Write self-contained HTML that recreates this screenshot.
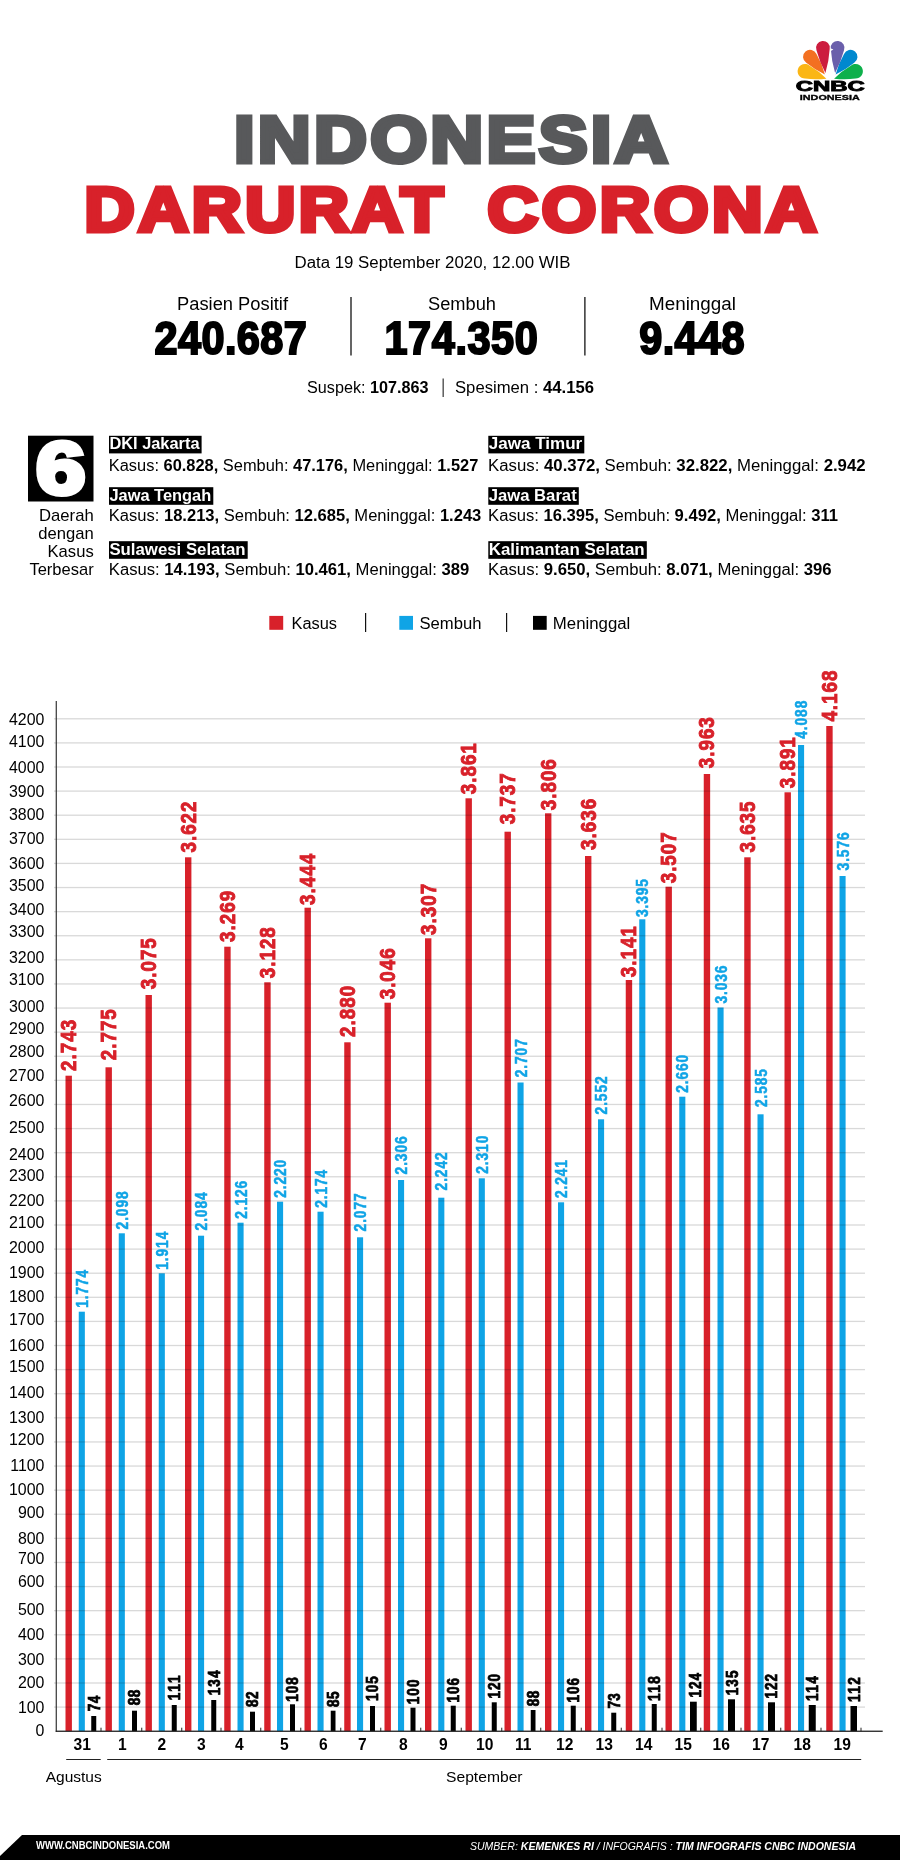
<!DOCTYPE html>
<html lang="id"><head><meta charset="utf-8"><title>Indonesia Darurat Corona</title>
<style>html,body{margin:0;padding:0;background:#fff}body{width:900px;height:1860px;overflow:hidden}svg{display:block;font-family:"Liberation Sans",sans-serif}</style>
</head><body>
<svg width="900" height="1860" viewBox="0 0 900 1860" role="img" aria-label="Indonesia Darurat Corona">
<rect width="900" height="1860" fill="#fff"/>
<g id="logo">
<path d="M826.40 78.70 Q815.63 80.09 804.87 78.60 A7.3 7.3 0 1 1 809.37 65.53 Q818.76 70.97 826.40 78.70 Z" fill="#fbb615"/>
<path d="M834.10 78.70 Q841.74 70.97 851.13 65.53 A7.3 7.3 0 1 1 855.63 78.60 Q844.87 80.09 834.10 78.70 Z" fill="#0eb04b"/>
<path d="M824.90 74.40 Q814.83 69.79 806.28 62.73 A7.0 7.0 0 1 1 816.46 54.11 Q822.01 63.70 824.90 74.40 Z" fill="#f37021"/>
<path d="M835.60 74.40 Q838.49 63.70 844.04 54.11 A7.0 7.0 0 1 1 854.22 62.73 Q845.67 69.79 835.60 74.40 Z" fill="#0088cf"/>
<path d="M825.40 72.90 Q819.60 62.15 816.48 50.34 A6.9 6.9 0 1 1 829.69 49.02 Q828.96 61.21 825.40 72.90 Z" fill="#cc1c3e"/>
<path d="M835.10 72.90 Q831.54 61.21 830.81 49.02 A6.9 6.9 0 1 1 844.02 50.34 Q840.90 62.15 835.10 72.90 Z" fill="#6a5fab"/>
<path d="M830.4 48.2 L833.4 49.4 L830.4 51.2 Z" fill="#fff"/>
</g>
<text x="830.2" y="91.4" font-size="14.2" font-weight="bold" fill="#000" text-anchor="middle" textLength="69" lengthAdjust="spacingAndGlyphs" stroke="#000" stroke-width="0.9">CNBC</text>
<text x="829.8" y="99.9" font-size="8.1" font-weight="bold" fill="#000" text-anchor="middle" textLength="60" lengthAdjust="spacingAndGlyphs" stroke="#000" stroke-width="0.35">INDONESIA</text>
<text transform="translate(234.2 161.8) scale(1.13 1)" font-size="64.3" font-weight="bold" fill="#58595b" stroke="#58595b" stroke-width="5" stroke-linejoin="miter" textLength="383.4" lengthAdjust="spacing">INDONESIA</text>
<text transform="translate(84.6 230.9) scale(1.09 1)" font-size="63.6" font-weight="bold" fill="#d8212a" stroke="#d8212a" stroke-width="5" stroke-linejoin="miter" textLength="328.9" lengthAdjust="spacing">DARURAT</text>
<text transform="translate(487.6 230.9) scale(1.1 1)" font-size="63.6" font-weight="bold" fill="#d8212a" stroke="#d8212a" stroke-width="5" stroke-linejoin="miter" textLength="299.1" lengthAdjust="spacing">CORONA</text>
<text x="432.5" y="267.5" font-size="16" font-weight="normal" fill="#000" text-anchor="middle" textLength="276" lengthAdjust="spacingAndGlyphs" >Data 19 September 2020, 12.00 WIB</text>
<text x="232.5" y="310.1" font-size="17.5" font-weight="normal" fill="#000" text-anchor="middle" textLength="111" lengthAdjust="spacingAndGlyphs" >Pasien Positif</text>
<text x="462" y="310.1" font-size="17.5" font-weight="normal" fill="#000" text-anchor="middle" textLength="68" lengthAdjust="spacingAndGlyphs" >Sembuh</text>
<text x="692.5" y="310.1" font-size="17.5" font-weight="normal" fill="#000" text-anchor="middle" textLength="87" lengthAdjust="spacingAndGlyphs" >Meninggal</text>
<text transform="translate(154.5 354.0) scale(0.9 1)" font-size="46" font-weight="bold" stroke="#000" stroke-width="2.1" stroke-linejoin="miter" textLength="169.2" lengthAdjust="spacing">240.687</text>
<text transform="translate(384.5 354.0) scale(0.9 1)" font-size="46" font-weight="bold" stroke="#000" stroke-width="2.1" stroke-linejoin="miter" textLength="170.3" lengthAdjust="spacing">174.350</text>
<text transform="translate(639.2 354.0) scale(0.9 1)" font-size="46" font-weight="bold" stroke="#000" stroke-width="2.1" stroke-linejoin="miter" textLength="117.0" lengthAdjust="spacing">9.448</text>
<rect x="350.4" y="297" width="1.2" height="58.5" fill="#000"/>
<rect x="584.3" y="297" width="1.2" height="58.5" fill="#000"/>
<text x="307" y="392.5" font-size="17.2" textLength="121.5" lengthAdjust="spacingAndGlyphs">Suspek: <tspan font-weight="bold">107.863</tspan></text>
<rect x="442.6" y="378.5" width="1.1" height="18.5" fill="#222"/>
<text x="455" y="392.5" font-size="17.2" textLength="139" lengthAdjust="spacingAndGlyphs">Spesimen : <tspan font-weight="bold">44.156</tspan></text>
<rect x="28" y="435.7" width="65.5" height="65.8" fill="#000"/>
<text x="60.8" y="494.2" font-size="74.3" font-weight="bold" fill="#fff" text-anchor="middle" textLength="49.5" lengthAdjust="spacingAndGlyphs" stroke="#fff" stroke-width="5" stroke-linejoin="miter">6</text>
<text x="39.0" y="521" font-size="16.2" font-weight="normal" fill="#000" text-anchor="start" textLength="54.7" lengthAdjust="spacingAndGlyphs" >Daerah</text>
<text x="38.2" y="539" font-size="16.2" font-weight="normal" fill="#000" text-anchor="start" textLength="55.5" lengthAdjust="spacingAndGlyphs" >dengan</text>
<text x="47.5" y="557.3" font-size="16.2" font-weight="normal" fill="#000" text-anchor="start" textLength="46.2" lengthAdjust="spacingAndGlyphs" >Kasus</text>
<text x="29.400000000000006" y="575" font-size="16.2" font-weight="normal" fill="#000" text-anchor="start" textLength="64.3" lengthAdjust="spacingAndGlyphs" >Terbesar</text>
<rect x="109" y="435.8" width="92.6" height="17.6" fill="#000"/>
<text x="109.4" y="449.40000000000003" font-size="16" font-weight="bold" fill="#fff" text-anchor="start" textLength="90.1" lengthAdjust="spacingAndGlyphs" >DKI Jakarta</text>
<text x="108.8" y="470.6" font-size="16" textLength="369.5" lengthAdjust="spacingAndGlyphs">Kasus: <tspan font-weight="bold">60.828,</tspan> Sembuh: <tspan font-weight="bold">47.176,</tspan> Meninggal: <tspan font-weight="bold">1.527</tspan></text>
<rect x="109" y="487.2" width="104.3" height="17.6" fill="#000"/>
<text x="109.4" y="500.8" font-size="16" font-weight="bold" fill="#fff" text-anchor="start" textLength="101.8" lengthAdjust="spacingAndGlyphs" >Jawa Tengah</text>
<text x="108.8" y="521.2" font-size="16" textLength="372.5" lengthAdjust="spacingAndGlyphs">Kasus: <tspan font-weight="bold">18.213,</tspan> Sembuh: <tspan font-weight="bold">12.685,</tspan> Meninggal: <tspan font-weight="bold">1.243</tspan></text>
<rect x="109" y="541.2" width="138.7" height="17.6" fill="#000"/>
<text x="109.4" y="554.8000000000001" font-size="16" font-weight="bold" fill="#fff" text-anchor="start" textLength="136.2" lengthAdjust="spacingAndGlyphs" >Sulawesi Selatan</text>
<text x="108.8" y="575.4" font-size="16" textLength="360.5" lengthAdjust="spacingAndGlyphs">Kasus: <tspan font-weight="bold">14.193,</tspan> Sembuh: <tspan font-weight="bold">10.461,</tspan> Meninggal: <tspan font-weight="bold">389</tspan></text>
<rect x="488.3" y="435.8" width="96" height="17.6" fill="#000"/>
<text x="488.7" y="449.40000000000003" font-size="16" font-weight="bold" fill="#fff" text-anchor="start" textLength="93.5" lengthAdjust="spacingAndGlyphs" >Jawa Timur</text>
<text x="488.1" y="470.6" font-size="16" textLength="377.5" lengthAdjust="spacingAndGlyphs">Kasus: <tspan font-weight="bold">40.372,</tspan> Sembuh: <tspan font-weight="bold">32.822,</tspan> Meninggal: <tspan font-weight="bold">2.942</tspan></text>
<rect x="488.3" y="487.2" width="90.5" height="17.6" fill="#000"/>
<text x="488.7" y="500.8" font-size="16" font-weight="bold" fill="#fff" text-anchor="start" textLength="88.0" lengthAdjust="spacingAndGlyphs" >Jawa Barat</text>
<text x="488.1" y="521.2" font-size="16" textLength="350" lengthAdjust="spacingAndGlyphs">Kasus: <tspan font-weight="bold">16.395,</tspan> Sembuh: <tspan font-weight="bold">9.492,</tspan> Meninggal: <tspan font-weight="bold">311</tspan></text>
<rect x="488.3" y="541.2" width="158.5" height="17.6" fill="#000"/>
<text x="488.7" y="554.8000000000001" font-size="16" font-weight="bold" fill="#fff" text-anchor="start" textLength="156.0" lengthAdjust="spacingAndGlyphs" >Kalimantan Selatan</text>
<text x="488.1" y="575.4" font-size="16" textLength="343.5" lengthAdjust="spacingAndGlyphs">Kasus: <tspan font-weight="bold">9.650,</tspan> Sembuh: <tspan font-weight="bold">8.071,</tspan> Meninggal: <tspan font-weight="bold">396</tspan></text>
<rect x="269.3" y="615.9" width="13.9" height="13.9" fill="#d8212a"/>
<text x="291.5" y="628.6" font-size="16" font-weight="normal" fill="#000" text-anchor="start" textLength="45.5" lengthAdjust="spacingAndGlyphs" >Kasus</text>
<rect x="365" y="613" width="1.2" height="19" fill="#111"/>
<rect x="399.3" y="615.9" width="13.7" height="13.9" fill="#0fa4e6"/>
<text x="419.5" y="628.6" font-size="16" font-weight="normal" fill="#000" text-anchor="start" textLength="62" lengthAdjust="spacingAndGlyphs" >Sembuh</text>
<rect x="506" y="613" width="1.2" height="19" fill="#111"/>
<rect x="533.0" y="615.9" width="13.7" height="13.9" fill="#000"/>
<text x="552.8" y="628.6" font-size="16" font-weight="normal" fill="#000" text-anchor="start" textLength="77.5" lengthAdjust="spacingAndGlyphs" >Meninggal</text>
<g id="ylabels" font-size="15.9" text-anchor="end">
<text x="44.4" y="724.8">4200</text>
<text x="44.4" y="747.0">4100</text>
<text x="44.4" y="772.8">4000</text>
<text x="44.4" y="797.0">3900</text>
<text x="44.4" y="820.3">3800</text>
<text x="44.4" y="844.0">3700</text>
<text x="44.4" y="868.6">3600</text>
<text x="44.4" y="890.6">3500</text>
<text x="44.4" y="914.5">3400</text>
<text x="44.4" y="937.0">3300</text>
<text x="44.4" y="962.8">3200</text>
<text x="44.4" y="984.5">3100</text>
<text x="44.4" y="1011.6">3000</text>
<text x="44.4" y="1033.6">2900</text>
<text x="44.4" y="1057.3">2800</text>
<text x="44.4" y="1080.6">2700</text>
<text x="44.4" y="1105.6">2600</text>
<text x="44.4" y="1132.5">2500</text>
<text x="44.4" y="1159.5">2400</text>
<text x="44.4" y="1181.1">2300</text>
<text x="44.4" y="1205.6">2200</text>
<text x="44.4" y="1227.8">2100</text>
<text x="44.4" y="1252.8">2000</text>
<text x="44.4" y="1277.5">1900</text>
<text x="44.4" y="1301.6">1800</text>
<text x="44.4" y="1325.0">1700</text>
<text x="44.4" y="1350.8">1600</text>
<text x="44.4" y="1372.0">1500</text>
<text x="44.4" y="1397.8">1400</text>
<text x="44.4" y="1423.3">1300</text>
<text x="44.4" y="1444.8">1200</text>
<text x="44.4" y="1470.6">1100</text>
<text x="44.4" y="1495.0">1000</text>
<text x="44.4" y="1517.8">900</text>
<text x="44.4" y="1543.5">800</text>
<text x="44.4" y="1564.1">700</text>
<text x="44.4" y="1587.0">600</text>
<text x="44.4" y="1615.0">500</text>
<text x="44.4" y="1639.5">400</text>
<text x="44.4" y="1665.0">300</text>
<text x="44.4" y="1688.3">200</text>
<text x="44.4" y="1712.5">100</text>
<text x="44.4" y="1736.1">0</text>
</g>
<g id="bars">
<rect x="65.5" y="1075.7" width="6.4" height="655.5" fill="#d8212a"/>
<rect x="78.75" y="1311.7" width="6.1" height="419.5" fill="#0fa4e6"/>
<rect x="91.25" y="1716" width="5" height="15.2" fill="#000"/>
<rect x="100.5" y="1727.7" width="1" height="3.5" fill="#222"/>
<rect x="105.5" y="1067.3" width="6.4" height="663.9" fill="#d8212a"/>
<rect x="118.75" y="1233.3" width="6.1" height="497.9" fill="#0fa4e6"/>
<rect x="132" y="1710.7" width="5" height="20.5" fill="#000"/>
<rect x="141.25" y="1727.7" width="1" height="3.5" fill="#222"/>
<rect x="145.5" y="995" width="6.4" height="736.2" fill="#d8212a"/>
<rect x="158.75" y="1273.3" width="6.1" height="457.9" fill="#0fa4e6"/>
<rect x="171.75" y="1705" width="5" height="26.2" fill="#000"/>
<rect x="181.25" y="1727.7" width="1" height="3.5" fill="#222"/>
<rect x="185" y="857.3" width="6.4" height="873.9" fill="#d8212a"/>
<rect x="198" y="1235.7" width="6.1" height="495.5" fill="#0fa4e6"/>
<rect x="211.25" y="1700" width="5" height="31.2" fill="#000"/>
<rect x="220.5" y="1727.7" width="1" height="3.5" fill="#222"/>
<rect x="224.25" y="946.7" width="6.4" height="784.5" fill="#d8212a"/>
<rect x="237.5" y="1222.7" width="6.1" height="508.5" fill="#0fa4e6"/>
<rect x="250" y="1711.7" width="5" height="19.5" fill="#000"/>
<rect x="260.25" y="1727.7" width="1" height="3.5" fill="#222"/>
<rect x="264.25" y="982.3" width="6.4" height="748.9" fill="#d8212a"/>
<rect x="277" y="1201.7" width="6.1" height="529.5" fill="#0fa4e6"/>
<rect x="290" y="1704.3" width="5" height="26.9" fill="#000"/>
<rect x="300.25" y="1727.7" width="1" height="3.5" fill="#222"/>
<rect x="304.5" y="907.7" width="6.4" height="823.5" fill="#d8212a"/>
<rect x="317.5" y="1211.7" width="6.1" height="519.5" fill="#0fa4e6"/>
<rect x="330.75" y="1710.7" width="4.75" height="20.5" fill="#000"/>
<rect x="340.25" y="1727.7" width="1" height="3.5" fill="#222"/>
<rect x="344.25" y="1042.3" width="6.4" height="688.9" fill="#d8212a"/>
<rect x="357" y="1237.3" width="6.1" height="493.9" fill="#0fa4e6"/>
<rect x="370" y="1706" width="5" height="25.2" fill="#000"/>
<rect x="380.25" y="1727.7" width="1" height="3.5" fill="#222"/>
<rect x="384.5" y="1002.7" width="6.4" height="728.5" fill="#d8212a"/>
<rect x="398" y="1180" width="6.1" height="551.2" fill="#0fa4e6"/>
<rect x="410.5" y="1707.7" width="5" height="23.5" fill="#000"/>
<rect x="420.25" y="1727.7" width="1" height="3.5" fill="#222"/>
<rect x="425" y="938.3" width="6.4" height="792.9" fill="#d8212a"/>
<rect x="438.25" y="1197.7" width="6.1" height="533.5" fill="#0fa4e6"/>
<rect x="450.75" y="1705.7" width="5" height="25.5" fill="#000"/>
<rect x="460.75" y="1727.7" width="1" height="3.5" fill="#222"/>
<rect x="465.5" y="798.3" width="6.4" height="932.9" fill="#d8212a"/>
<rect x="478.75" y="1178.3" width="6.1" height="552.9" fill="#0fa4e6"/>
<rect x="491.75" y="1702.3" width="5" height="28.9" fill="#000"/>
<rect x="501.25" y="1727.7" width="1" height="3.5" fill="#222"/>
<rect x="504.5" y="831.7" width="6.4" height="899.5" fill="#d8212a"/>
<rect x="517.5" y="1082.5" width="6.1" height="648.7" fill="#0fa4e6"/>
<rect x="530.75" y="1710" width="4.75" height="21.2" fill="#000"/>
<rect x="540.25" y="1727.7" width="1" height="3.5" fill="#222"/>
<rect x="545" y="813.3" width="6.4" height="917.9" fill="#d8212a"/>
<rect x="558" y="1202.3" width="6.1" height="528.9" fill="#0fa4e6"/>
<rect x="570.75" y="1705.7" width="5" height="25.5" fill="#000"/>
<rect x="580.75" y="1727.7" width="1" height="3.5" fill="#222"/>
<rect x="585" y="856" width="6.4" height="875.2" fill="#d8212a"/>
<rect x="598" y="1119.3" width="6.1" height="611.9" fill="#0fa4e6"/>
<rect x="611.25" y="1712.7" width="5" height="18.5" fill="#000"/>
<rect x="620.75" y="1727.7" width="1" height="3.5" fill="#222"/>
<rect x="625.75" y="980" width="6.4" height="751.2" fill="#d8212a"/>
<rect x="639.25" y="919.3" width="6.1" height="811.9" fill="#0fa4e6"/>
<rect x="651.75" y="1704" width="5" height="27.2" fill="#000"/>
<rect x="661.5" y="1727.7" width="1" height="3.5" fill="#222"/>
<rect x="665.5" y="886.7" width="6.4" height="844.5" fill="#d8212a"/>
<rect x="679.25" y="1096.7" width="6.1" height="634.5" fill="#0fa4e6"/>
<rect x="690" y="1701.7" width="6.75" height="29.5" fill="#000"/>
<rect x="700.25" y="1727.7" width="1" height="3.5" fill="#222"/>
<rect x="703.75" y="774" width="6.4" height="957.2" fill="#d8212a"/>
<rect x="717.5" y="1007.5" width="6.1" height="723.7" fill="#0fa4e6"/>
<rect x="728" y="1699.3" width="7" height="31.9" fill="#000"/>
<rect x="740.5" y="1727.7" width="1" height="3.5" fill="#222"/>
<rect x="744.25" y="857.3" width="6.4" height="873.9" fill="#d8212a"/>
<rect x="757.5" y="1114.3" width="6.1" height="616.9" fill="#0fa4e6"/>
<rect x="768" y="1702.3" width="7" height="28.9" fill="#000"/>
<rect x="780.25" y="1727.7" width="1" height="3.5" fill="#222"/>
<rect x="784.5" y="792.3" width="6.4" height="938.9" fill="#d8212a"/>
<rect x="798" y="745" width="6.1" height="986.2" fill="#0fa4e6"/>
<rect x="808.75" y="1705" width="7" height="26.2" fill="#000"/>
<rect x="820.5" y="1727.7" width="1" height="3.5" fill="#222"/>
<rect x="826.25" y="726" width="6.4" height="1005.2" fill="#d8212a"/>
<rect x="839.5" y="876" width="6.1" height="855.2" fill="#0fa4e6"/>
<rect x="850.5" y="1706" width="6.5" height="25.2" fill="#000"/>
<rect x="860.5" y="1727.7" width="1" height="3.5" fill="#222"/>
</g>
<g id="grid" style="mix-blend-mode:multiply">
<rect x="54" y="1706.44" width="811" height="1.3" fill="#d9d9d9"/>
<rect x="54" y="1682.34" width="811" height="1.3" fill="#d9d9d9"/>
<rect x="54" y="1658.23" width="811" height="1.3" fill="#d9d9d9"/>
<rect x="54" y="1634.13" width="811" height="1.3" fill="#d9d9d9"/>
<rect x="54" y="1610.02" width="811" height="1.3" fill="#d9d9d9"/>
<rect x="54" y="1585.92" width="811" height="1.3" fill="#d9d9d9"/>
<rect x="54" y="1561.82" width="811" height="1.3" fill="#d9d9d9"/>
<rect x="54" y="1537.71" width="811" height="1.3" fill="#d9d9d9"/>
<rect x="54" y="1513.61" width="811" height="1.3" fill="#d9d9d9"/>
<rect x="54" y="1489.50" width="811" height="1.3" fill="#d9d9d9"/>
<rect x="54" y="1465.39" width="811" height="1.3" fill="#d9d9d9"/>
<rect x="54" y="1441.29" width="811" height="1.3" fill="#d9d9d9"/>
<rect x="54" y="1417.18" width="811" height="1.3" fill="#d9d9d9"/>
<rect x="54" y="1393.08" width="811" height="1.3" fill="#d9d9d9"/>
<rect x="54" y="1368.97" width="811" height="1.3" fill="#d9d9d9"/>
<rect x="54" y="1344.87" width="811" height="1.3" fill="#d9d9d9"/>
<rect x="54" y="1320.76" width="811" height="1.3" fill="#d9d9d9"/>
<rect x="54" y="1296.66" width="811" height="1.3" fill="#d9d9d9"/>
<rect x="54" y="1272.56" width="811" height="1.3" fill="#d9d9d9"/>
<rect x="54" y="1248.45" width="811" height="1.3" fill="#d9d9d9"/>
<rect x="54" y="1224.35" width="811" height="1.3" fill="#d9d9d9"/>
<rect x="54" y="1200.24" width="811" height="1.3" fill="#d9d9d9"/>
<rect x="54" y="1176.13" width="811" height="1.3" fill="#d9d9d9"/>
<rect x="54" y="1152.03" width="811" height="1.3" fill="#d9d9d9"/>
<rect x="54" y="1127.92" width="811" height="1.3" fill="#d9d9d9"/>
<rect x="54" y="1103.82" width="811" height="1.3" fill="#d9d9d9"/>
<rect x="54" y="1079.72" width="811" height="1.3" fill="#d9d9d9"/>
<rect x="54" y="1055.61" width="811" height="1.3" fill="#d9d9d9"/>
<rect x="54" y="1031.51" width="811" height="1.3" fill="#d9d9d9"/>
<rect x="54" y="1007.40" width="811" height="1.3" fill="#d9d9d9"/>
<rect x="54" y="983.30" width="811" height="1.3" fill="#d9d9d9"/>
<rect x="54" y="959.19" width="811" height="1.3" fill="#d9d9d9"/>
<rect x="54" y="935.09" width="811" height="1.3" fill="#d9d9d9"/>
<rect x="54" y="910.98" width="811" height="1.3" fill="#d9d9d9"/>
<rect x="54" y="886.88" width="811" height="1.3" fill="#d9d9d9"/>
<rect x="54" y="862.77" width="811" height="1.3" fill="#d9d9d9"/>
<rect x="54" y="838.67" width="811" height="1.3" fill="#d9d9d9"/>
<rect x="54" y="814.56" width="811" height="1.3" fill="#d9d9d9"/>
<rect x="54" y="790.46" width="811" height="1.3" fill="#d9d9d9"/>
<rect x="54" y="766.35" width="811" height="1.3" fill="#d9d9d9"/>
<rect x="54" y="742.25" width="811" height="1.3" fill="#d9d9d9"/>
<rect x="54" y="718.14" width="811" height="1.3" fill="#d9d9d9"/>
</g>
<g id="barlabels">
<text transform="translate(76.2 1070.9) rotate(-90) scale(0.86 1)" font-size="21.8" font-weight="bold" fill="#d8212a" textLength="59.3" lengthAdjust="spacing" stroke="#d8212a" stroke-width="0.9">2.743</text>
<text transform="translate(87.85 1307.8) rotate(-90) scale(0.86 1)" font-size="16.0" font-weight="bold" fill="#0fa4e6" textLength="44.2" lengthAdjust="spacing" stroke="#0fa4e6" stroke-width="0.55">1.774</text>
<text transform="translate(99.55 1711.2) rotate(-90) scale(0.8 1)" font-size="16.9" font-weight="bold" fill="#000" textLength="19.2" lengthAdjust="spacing" stroke="#000" stroke-width="0.8">74</text>
<text transform="translate(116.2 1060.2) rotate(-90) scale(0.86 1)" font-size="21.8" font-weight="bold" fill="#d8212a" textLength="59.3" lengthAdjust="spacing" stroke="#d8212a" stroke-width="0.9">2.775</text>
<text transform="translate(127.85 1229.4) rotate(-90) scale(0.86 1)" font-size="16.0" font-weight="bold" fill="#0fa4e6" textLength="44.2" lengthAdjust="spacing" stroke="#0fa4e6" stroke-width="0.55">2.098</text>
<text transform="translate(140.3 1705.2) rotate(-90) scale(0.8 1)" font-size="16.9" font-weight="bold" fill="#000" textLength="19.2" lengthAdjust="spacing" stroke="#000" stroke-width="0.8">88</text>
<text transform="translate(156.2 989.2) rotate(-90) scale(0.86 1)" font-size="21.8" font-weight="bold" fill="#d8212a" textLength="59.3" lengthAdjust="spacing" stroke="#d8212a" stroke-width="0.9">3.075</text>
<text transform="translate(167.85 1269.7) rotate(-90) scale(0.86 1)" font-size="16.0" font-weight="bold" fill="#0fa4e6" textLength="44.2" lengthAdjust="spacing" stroke="#0fa4e6" stroke-width="0.55">1.914</text>
<text transform="translate(180.05 1700.2) rotate(-90) scale(0.8 1)" font-size="16.9" font-weight="bold" fill="#000" textLength="30.8" lengthAdjust="spacing" stroke="#000" stroke-width="0.8">111</text>
<text transform="translate(195.7 852.5) rotate(-90) scale(0.86 1)" font-size="21.8" font-weight="bold" fill="#d8212a" textLength="59.3" lengthAdjust="spacing" stroke="#d8212a" stroke-width="0.9">3.622</text>
<text transform="translate(207.1 1230.4) rotate(-90) scale(0.86 1)" font-size="16.0" font-weight="bold" fill="#0fa4e6" textLength="44.2" lengthAdjust="spacing" stroke="#0fa4e6" stroke-width="0.55">2.084</text>
<text transform="translate(219.55 1695.2) rotate(-90) scale(0.8 1)" font-size="16.9" font-weight="bold" fill="#000" textLength="30.8" lengthAdjust="spacing" stroke="#000" stroke-width="0.8">134</text>
<text transform="translate(234.95 941.9) rotate(-90) scale(0.86 1)" font-size="21.8" font-weight="bold" fill="#d8212a" textLength="59.3" lengthAdjust="spacing" stroke="#d8212a" stroke-width="0.9">3.269</text>
<text transform="translate(246.6 1218.8) rotate(-90) scale(0.86 1)" font-size="16.0" font-weight="bold" fill="#0fa4e6" textLength="44.2" lengthAdjust="spacing" stroke="#0fa4e6" stroke-width="0.55">2.126</text>
<text transform="translate(258.3 1706.9) rotate(-90) scale(0.8 1)" font-size="16.9" font-weight="bold" fill="#000" textLength="19.2" lengthAdjust="spacing" stroke="#000" stroke-width="0.8">82</text>
<text transform="translate(274.95 978.2) rotate(-90) scale(0.86 1)" font-size="21.8" font-weight="bold" fill="#d8212a" textLength="59.3" lengthAdjust="spacing" stroke="#d8212a" stroke-width="0.9">3.128</text>
<text transform="translate(286.1 1197.8) rotate(-90) scale(0.86 1)" font-size="16.0" font-weight="bold" fill="#0fa4e6" textLength="44.2" lengthAdjust="spacing" stroke="#0fa4e6" stroke-width="0.55">2.220</text>
<text transform="translate(298.3 1701.8) rotate(-90) scale(0.8 1)" font-size="16.9" font-weight="bold" fill="#000" textLength="30.8" lengthAdjust="spacing" stroke="#000" stroke-width="0.8">108</text>
<text transform="translate(315.2 904.9) rotate(-90) scale(0.86 1)" font-size="21.8" font-weight="bold" fill="#d8212a" textLength="59.3" lengthAdjust="spacing" stroke="#d8212a" stroke-width="0.9">3.444</text>
<text transform="translate(326.6 1207.8) rotate(-90) scale(0.86 1)" font-size="16.0" font-weight="bold" fill="#0fa4e6" textLength="44.2" lengthAdjust="spacing" stroke="#0fa4e6" stroke-width="0.55">2.174</text>
<text transform="translate(338.93 1706.9) rotate(-90) scale(0.8 1)" font-size="16.9" font-weight="bold" fill="#000" textLength="19.2" lengthAdjust="spacing" stroke="#000" stroke-width="0.8">85</text>
<text transform="translate(354.95 1036.9) rotate(-90) scale(0.86 1)" font-size="21.8" font-weight="bold" fill="#d8212a" textLength="59.3" lengthAdjust="spacing" stroke="#d8212a" stroke-width="0.9">2.880</text>
<text transform="translate(366.1 1231.4) rotate(-90) scale(0.86 1)" font-size="16.0" font-weight="bold" fill="#0fa4e6" textLength="44.2" lengthAdjust="spacing" stroke="#0fa4e6" stroke-width="0.55">2.077</text>
<text transform="translate(378.3 1700.9) rotate(-90) scale(0.8 1)" font-size="16.9" font-weight="bold" fill="#000" textLength="30.8" lengthAdjust="spacing" stroke="#000" stroke-width="0.8">105</text>
<text transform="translate(395.2 999.3) rotate(-90) scale(0.86 1)" font-size="21.8" font-weight="bold" fill="#d8212a" textLength="59.3" lengthAdjust="spacing" stroke="#d8212a" stroke-width="0.9">3.046</text>
<text transform="translate(407.1 1174.4) rotate(-90) scale(0.86 1)" font-size="16.0" font-weight="bold" fill="#0fa4e6" textLength="44.2" lengthAdjust="spacing" stroke="#0fa4e6" stroke-width="0.55">2.306</text>
<text transform="translate(418.8 1704.2) rotate(-90) scale(0.8 1)" font-size="16.9" font-weight="bold" fill="#000" textLength="30.8" lengthAdjust="spacing" stroke="#000" stroke-width="0.8">100</text>
<text transform="translate(435.7 934.9) rotate(-90) scale(0.86 1)" font-size="21.8" font-weight="bold" fill="#d8212a" textLength="59.3" lengthAdjust="spacing" stroke="#d8212a" stroke-width="0.9">3.307</text>
<text transform="translate(447.35 1190.4) rotate(-90) scale(0.86 1)" font-size="16.0" font-weight="bold" fill="#0fa4e6" textLength="44.2" lengthAdjust="spacing" stroke="#0fa4e6" stroke-width="0.55">2.242</text>
<text transform="translate(459.05 1702.6) rotate(-90) scale(0.8 1)" font-size="16.9" font-weight="bold" fill="#000" textLength="30.8" lengthAdjust="spacing" stroke="#000" stroke-width="0.8">106</text>
<text transform="translate(476.2 794.2) rotate(-90) scale(0.86 1)" font-size="21.8" font-weight="bold" fill="#d8212a" textLength="59.3" lengthAdjust="spacing" stroke="#d8212a" stroke-width="0.9">3.861</text>
<text transform="translate(487.85 1173.7) rotate(-90) scale(0.86 1)" font-size="16.0" font-weight="bold" fill="#0fa4e6" textLength="44.2" lengthAdjust="spacing" stroke="#0fa4e6" stroke-width="0.55">2.310</text>
<text transform="translate(500.05 1698.5) rotate(-90) scale(0.8 1)" font-size="16.9" font-weight="bold" fill="#000" textLength="30.8" lengthAdjust="spacing" stroke="#000" stroke-width="0.8">120</text>
<text transform="translate(515.2 824.3) rotate(-90) scale(0.86 1)" font-size="21.8" font-weight="bold" fill="#d8212a" textLength="59.3" lengthAdjust="spacing" stroke="#d8212a" stroke-width="0.9">3.737</text>
<text transform="translate(526.6 1077.2) rotate(-90) scale(0.86 1)" font-size="16.0" font-weight="bold" fill="#0fa4e6" textLength="44.2" lengthAdjust="spacing" stroke="#0fa4e6" stroke-width="0.55">2.707</text>
<text transform="translate(538.92 1706.2) rotate(-90) scale(0.8 1)" font-size="16.9" font-weight="bold" fill="#000" textLength="19.2" lengthAdjust="spacing" stroke="#000" stroke-width="0.8">88</text>
<text transform="translate(555.7 810.2) rotate(-90) scale(0.86 1)" font-size="21.8" font-weight="bold" fill="#d8212a" textLength="59.3" lengthAdjust="spacing" stroke="#d8212a" stroke-width="0.9">3.806</text>
<text transform="translate(567.1 1198.0) rotate(-90) scale(0.86 1)" font-size="16.0" font-weight="bold" fill="#0fa4e6" textLength="44.2" lengthAdjust="spacing" stroke="#0fa4e6" stroke-width="0.55">2.241</text>
<text transform="translate(579.05 1702.6) rotate(-90) scale(0.8 1)" font-size="16.9" font-weight="bold" fill="#000" textLength="30.8" lengthAdjust="spacing" stroke="#000" stroke-width="0.8">106</text>
<text transform="translate(595.7 849.9) rotate(-90) scale(0.86 1)" font-size="21.8" font-weight="bold" fill="#d8212a" textLength="59.3" lengthAdjust="spacing" stroke="#d8212a" stroke-width="0.9">3.636</text>
<text transform="translate(607.1 1114.4) rotate(-90) scale(0.86 1)" font-size="16.0" font-weight="bold" fill="#0fa4e6" textLength="44.2" lengthAdjust="spacing" stroke="#0fa4e6" stroke-width="0.55">2.552</text>
<text transform="translate(619.55 1708.6) rotate(-90) scale(0.8 1)" font-size="16.9" font-weight="bold" fill="#000" textLength="19.2" lengthAdjust="spacing" stroke="#000" stroke-width="0.8">73</text>
<text transform="translate(636.45 977.2) rotate(-90) scale(0.86 1)" font-size="21.8" font-weight="bold" fill="#d8212a" textLength="59.3" lengthAdjust="spacing" stroke="#d8212a" stroke-width="0.9">3.141</text>
<text transform="translate(648.35 917.0) rotate(-90) scale(0.86 1)" font-size="16.0" font-weight="bold" fill="#0fa4e6" textLength="44.2" lengthAdjust="spacing" stroke="#0fa4e6" stroke-width="0.55">3.395</text>
<text transform="translate(660.05 1700.9) rotate(-90) scale(0.8 1)" font-size="16.9" font-weight="bold" fill="#000" textLength="30.8" lengthAdjust="spacing" stroke="#000" stroke-width="0.8">118</text>
<text transform="translate(676.2 883.3) rotate(-90) scale(0.86 1)" font-size="21.8" font-weight="bold" fill="#d8212a" textLength="59.3" lengthAdjust="spacing" stroke="#d8212a" stroke-width="0.9">3.507</text>
<text transform="translate(688.35 1092.8) rotate(-90) scale(0.86 1)" font-size="16.0" font-weight="bold" fill="#0fa4e6" textLength="44.2" lengthAdjust="spacing" stroke="#0fa4e6" stroke-width="0.55">2.660</text>
<text transform="translate(701.17 1697.6) rotate(-90) scale(0.8 1)" font-size="16.9" font-weight="bold" fill="#000" textLength="30.8" lengthAdjust="spacing" stroke="#000" stroke-width="0.8">124</text>
<text transform="translate(714.45 768.2) rotate(-90) scale(0.86 1)" font-size="21.8" font-weight="bold" fill="#d8212a" textLength="59.3" lengthAdjust="spacing" stroke="#d8212a" stroke-width="0.9">3.963</text>
<text transform="translate(726.6 1003.6) rotate(-90) scale(0.86 1)" font-size="16.0" font-weight="bold" fill="#0fa4e6" textLength="44.2" lengthAdjust="spacing" stroke="#0fa4e6" stroke-width="0.55">3.036</text>
<text transform="translate(738.3 1695.2) rotate(-90) scale(0.8 1)" font-size="16.9" font-weight="bold" fill="#000" textLength="30.8" lengthAdjust="spacing" stroke="#000" stroke-width="0.8">135</text>
<text transform="translate(754.95 852.5) rotate(-90) scale(0.86 1)" font-size="21.8" font-weight="bold" fill="#d8212a" textLength="59.3" lengthAdjust="spacing" stroke="#d8212a" stroke-width="0.9">3.635</text>
<text transform="translate(766.6 1107.0) rotate(-90) scale(0.86 1)" font-size="16.0" font-weight="bold" fill="#0fa4e6" textLength="44.2" lengthAdjust="spacing" stroke="#0fa4e6" stroke-width="0.55">2.585</text>
<text transform="translate(777.3 1698.5) rotate(-90) scale(0.8 1)" font-size="16.9" font-weight="bold" fill="#000" textLength="30.8" lengthAdjust="spacing" stroke="#000" stroke-width="0.8">122</text>
<text transform="translate(795.2 788.2) rotate(-90) scale(0.86 1)" font-size="21.8" font-weight="bold" fill="#d8212a" textLength="59.3" lengthAdjust="spacing" stroke="#d8212a" stroke-width="0.9">3.891</text>
<text transform="translate(807.1 738.7) rotate(-90) scale(0.86 1)" font-size="16.0" font-weight="bold" fill="#0fa4e6" textLength="44.2" lengthAdjust="spacing" stroke="#0fa4e6" stroke-width="0.55">4.088</text>
<text transform="translate(818.05 1700.9) rotate(-90) scale(0.8 1)" font-size="16.9" font-weight="bold" fill="#000" textLength="30.8" lengthAdjust="spacing" stroke="#000" stroke-width="0.8">114</text>
<text transform="translate(836.95 721.6) rotate(-90) scale(0.86 1)" font-size="21.8" font-weight="bold" fill="#d8212a" textLength="59.3" lengthAdjust="spacing" stroke="#d8212a" stroke-width="0.9">4.168</text>
<text transform="translate(848.6 870.4) rotate(-90) scale(0.86 1)" font-size="16.0" font-weight="bold" fill="#0fa4e6" textLength="44.2" lengthAdjust="spacing" stroke="#0fa4e6" stroke-width="0.55">3.576</text>
<text transform="translate(859.55 1701.9) rotate(-90) scale(0.8 1)" font-size="16.9" font-weight="bold" fill="#000" textLength="30.8" lengthAdjust="spacing" stroke="#000" stroke-width="0.8">112</text>
</g>
<rect x="55.7" y="701" width="1.1" height="1030.8" fill="#222"/>
<rect x="55.7" y="1730.6000000000001" width="827" height="1.3" fill="#222"/>
<g id="xlabels" font-size="15.6" font-weight="bold" text-anchor="middle">
<text x="82.3" y="1749.5">31</text>
<text x="122.3" y="1749.5">1</text>
<text x="161.8" y="1749.5">2</text>
<text x="201.3" y="1749.5">3</text>
<text x="239.3" y="1749.5">4</text>
<text x="284.3" y="1749.5">5</text>
<text x="323.3" y="1749.5">6</text>
<text x="362.3" y="1749.5">7</text>
<text x="403.3" y="1749.5">8</text>
<text x="443.3" y="1749.5">9</text>
<text x="484.8" y="1749.5">10</text>
<text x="523.3" y="1749.5">11</text>
<text x="564.8" y="1749.5">12</text>
<text x="604.3" y="1749.5">13</text>
<text x="643.8" y="1749.5">14</text>
<text x="683.3" y="1749.5">15</text>
<text x="721.3" y="1749.5">16</text>
<text x="760.8" y="1749.5">17</text>
<text x="802.3" y="1749.5">18</text>
<text x="842.3" y="1749.5">19</text>
</g>
<rect x="66.2" y="1759" width="34.5" height="1" fill="#222"/>
<rect x="107.2" y="1759" width="754" height="1" fill="#222"/>
<text x="73.7" y="1781.7" font-size="15.5" font-weight="normal" fill="#000" text-anchor="middle" textLength="56" lengthAdjust="spacingAndGlyphs" >Agustus</text>
<text x="484.3" y="1781.7" font-size="15.5" font-weight="normal" fill="#000" text-anchor="middle" textLength="76.5" lengthAdjust="spacingAndGlyphs" >September</text>
<path d="M22 1835 H900 V1860 H0 V1856 Z" fill="#000"/>
<text x="36" y="1849.2" font-size="10.4" font-weight="bold" fill="#fff" text-anchor="start" textLength="134" lengthAdjust="spacingAndGlyphs" >WWW.CNBCINDONESIA.COM</text>
<text x="470" y="1849.5" font-size="11" fill="#fff" font-style="italic" textLength="386" lengthAdjust="spacingAndGlyphs">SUMBER: <tspan font-weight="bold">KEMENKES RI</tspan> / INFOGRAFIS : <tspan font-weight="bold">TIM INFOGRAFIS CNBC INDONESIA</tspan></text>
</svg>
</body></html>
